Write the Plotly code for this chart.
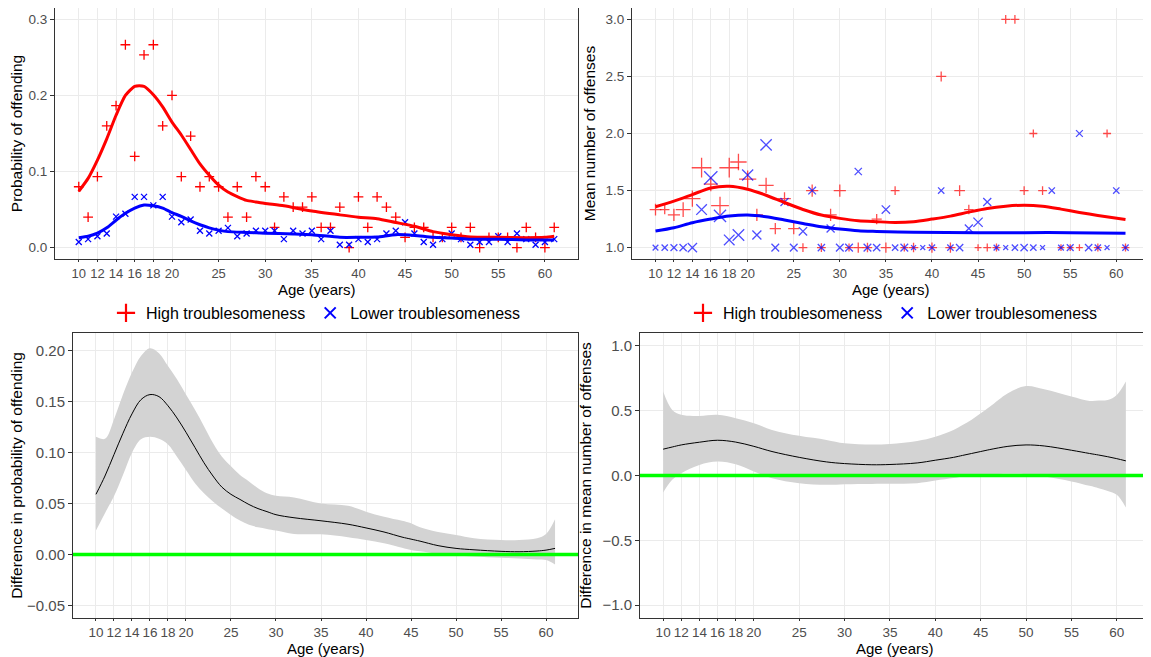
import math
import plotly.graph_objects as go

# ---------------- data ----------------
ages = list(range(10, 62))
N_HIGH = 75
N_LOW = 270

# number of offenders per age
high_offenders = [6, 3, 7, 12, 14, 20, 9, 19, 20, 12, 15, 7, 11, 6, 7, 6, 3, 6, 3, 7,
                  6, 2, 5, 4, 4, 5, 2, 2, 4, 0, 5, 2, 5, 4, 3, 1, 2, 2, 1, 1,
                  2, 1, 2, 0, 1, 1, 1, 0, 2, 1, 0, 2]
low_offenders = [2, 3, 4, 5, 11, 12, 18, 18, 15, 18, 11, 9, 10, 6, 5, 6, 7, 4, 5, 6,
                 6, 6, 3, 6, 5, 6, 3, 6, 1, 1, 3, 2, 3, 5, 6, 9, 5, 2, 1, 3,
                 5, 3, 1, 2, 2, 4, 2, 5, 3, 1, 2, 3]

# mean number of offenses per offender
high_mean = [1.333, 1.333, 1.286, 1.333, 1.429, 1.70, 1.556, 1.368, 1.70, 1.75,
             1.60, 1.286, 1.545, 1.167, 1.429, 1.167, 1.0, 1.5, 1.0, 1.286,
             1.5, 1.0, 1.0, 1.0, 1.25, 1.0, 1.5, 1.0, 1.0, None,
             1.0, 2.5, 1.0, 1.5, 1.333, 1.0, 1.0, 1.0, 3.0, 3.0,
             1.5, 2.0, 1.5, None, 1.0, 1.0, 1.0, None, 1.0, 2.0, None, 1.0]
low_mean = [1.0, 1.0, 1.0, 1.0, 1.0, 1.333, 1.611, 1.278, 1.067, 1.111,
            1.636, 1.111, 1.9, 1.0, 1.4, 1.0, 1.143, 1.5, 1.0, 1.167,
            1.0, 1.0, 1.667, 1.0, 1.0, 1.333, 1.0, 1.0, 1.0, 1.0,
            1.0, 1.5, 1.0, 1.0, 1.167, 1.222, 1.4, 1.0, 1.0, 1.0,
            1.0, 1.0, 1.0, 1.5, 1.0, 1.0, 2.0, 1.0, 1.0, 1.0, 1.5, 1.0]

# smooth fits, probability panel
p_high_fit_age = [10, 11, 12, 13, 14, 15, 16, 17, 18, 19, 20, 21, 22, 23, 24, 25, 26, 27, 28, 29,
                  30, 32, 35, 38, 40, 42, 44, 46, 48, 50, 52, 55, 58, 60, 61]
p_high_fit = [0.074, 0.091, 0.115, 0.143, 0.174, 0.200, 0.212, 0.212, 0.201, 0.185,
              0.165, 0.148, 0.129, 0.110, 0.095, 0.082, 0.073, 0.067, 0.062, 0.060,
              0.058, 0.055, 0.048, 0.043, 0.040, 0.038, 0.033, 0.028, 0.021, 0.017,
              0.014, 0.0135, 0.013, 0.0135, 0.015]
p_low_fit_age = [10, 11, 12, 13, 14, 15, 16, 17, 18, 19, 20, 21, 22, 23, 24, 25, 26, 28, 30, 33,
                 35, 38, 40, 42, 44, 46, 48, 50, 52, 55, 58, 61]
p_low_fit = [0.013, 0.015, 0.019, 0.026, 0.036, 0.045, 0.052, 0.056, 0.055, 0.052,
             0.046, 0.041, 0.035, 0.030, 0.026, 0.023, 0.021, 0.020, 0.019, 0.018,
             0.017, 0.0135, 0.0135, 0.014, 0.017, 0.016, 0.0135, 0.0127, 0.011, 0.011,
             0.010, 0.010]

# smooth fits, mean panel
m_high_fit_age = [10, 12, 14, 16, 18, 20, 22, 24, 26, 28, 30, 32, 34, 36, 38, 40, 42, 44, 46, 48,
                  50, 52, 54, 56, 58, 61]
m_high_fit = [1.358, 1.407, 1.465, 1.523, 1.538, 1.512, 1.459, 1.395, 1.334, 1.285,
              1.256, 1.235, 1.227, 1.221, 1.227, 1.250, 1.276, 1.311, 1.343, 1.363,
              1.372, 1.363, 1.337, 1.308, 1.282, 1.247]
m_low_fit_age = [10, 12, 14, 16, 18, 20, 22, 24, 26, 28, 30, 32, 34, 38, 45, 50, 55, 61]
m_low_fit = [1.145, 1.174, 1.218, 1.250, 1.276, 1.285, 1.270, 1.241, 1.212, 1.183,
             1.163, 1.148, 1.142, 1.134, 1.131, 1.131, 1.131, 1.125]

# difference in probability (estimate and band)
dp_age = [10, 11, 12, 13, 14, 15, 16, 17, 18, 19, 20, 21, 22, 23, 24, 25, 26, 27, 28, 29,
          30, 32, 35, 38, 40, 42, 44, 45, 46, 48, 50, 52, 55, 57, 59, 60, 61]
dp_est = [0.059, 0.077, 0.098, 0.119, 0.138, 0.152, 0.157, 0.155, 0.146, 0.134,
          0.120, 0.105, 0.090, 0.077, 0.066, 0.059, 0.054, 0.049, 0.045, 0.042,
          0.039, 0.036, 0.033, 0.0296, 0.026, 0.022, 0.017, 0.015, 0.013, 0.0086,
          0.0059, 0.0045, 0.003, 0.0026, 0.0033, 0.0042, 0.0059]
dp_upper = [0.1155, 0.1135, 0.1326, 0.157, 0.1786, 0.195, 0.2026, 0.1977, 0.185, 0.172,
            0.157, 0.142, 0.126, 0.1095, 0.096, 0.0865, 0.078, 0.0717, 0.065, 0.060,
            0.0576, 0.056, 0.050, 0.0477, 0.042, 0.037, 0.033, 0.0306, 0.0266, 0.022,
            0.019, 0.0158, 0.0141, 0.0141, 0.0158, 0.020, 0.0345]
dp_lower = [0.0234, 0.0405, 0.057, 0.078, 0.0997, 0.113, 0.1155, 0.1135, 0.108, 0.096,
            0.083, 0.070, 0.060, 0.052, 0.045, 0.0388, 0.0332, 0.029, 0.0266, 0.025,
            0.0234, 0.020, 0.0197, 0.0168, 0.0141, 0.0109, 0.0065, 0.0043, 0.003, 0.0005,
            -0.001, -0.002, -0.0033, -0.004, -0.005, -0.0056, -0.0099]

# difference in mean number of offenses (estimate and band)
dm_age = [10, 11, 12, 14, 16, 18, 20, 22, 25, 28, 30, 33, 35, 38, 40, 42, 43, 44, 45, 46,
          48, 50, 52, 55, 57, 58, 59, 60, 61]
dm_est = [0.203, 0.220, 0.236, 0.257, 0.272, 0.258, 0.225, 0.185, 0.140, 0.105,
          0.092, 0.083, 0.085, 0.097, 0.118, 0.140, 0.155, 0.170, 0.185, 0.200,
          0.225, 0.236, 0.228, 0.195, 0.170, 0.158, 0.145, 0.130, 0.113]
dm_upper = [0.648, 0.506, 0.468, 0.460, 0.468, 0.442, 0.404, 0.352, 0.306, 0.275,
            0.249, 0.239, 0.244, 0.267, 0.300, 0.352, 0.390, 0.430, 0.480, 0.530,
            0.635, 0.690, 0.665, 0.610, 0.576, 0.578, 0.583, 0.622, 0.725]
dm_lower = [-0.131, -0.033, 0.018, 0.082, 0.108, 0.087, 0.031, -0.021, -0.059, -0.072,
            -0.067, -0.065, -0.064, -0.059, -0.039, -0.020, -0.008, 0.000, 0.005, 0.009,
            0.013, 0.010, -0.008, -0.046, -0.080, -0.098, -0.120, -0.149, -0.247]

age_ticks = [10, 12, 14, 16, 18, 20, 25, 30, 35, 40, 45, 50, 55, 60]
labels = ["High troublesomeness", "Lower troublesomeness"]
x_title = "Age (years)"

# ---------------- styling ----------------
RED = "#FF0000"
BLUE = "#0000FF"
PAGE_W, PAGE_H = 1151, 657
OFF = 8  # default page body margin
W, H = PAGE_W - OFF, PAGE_H - OFF
FAMILY = "Liberation Sans, Arial, sans-serif"


def px(xp):
    return (xp - OFF) / W


def py(yp):
    return 1 - (yp - OFF) / H


high_prob = [n / N_HIGH for n in high_offenders]
low_prob = [n / N_LOW for n in low_offenders]


def msize(n, m):
    if m is None:
        return 0
    return 3 + 1.9 * math.sqrt(n * m)


high_size = [msize(n, m) for n, m in zip(high_offenders, high_mean)]
low_size = [msize(n, m) for n, m in zip(low_offenders, low_mean)]

fig = go.Figure()

# ---- top-left: probability of offending ----
fig.add_trace(go.Scatter(x=ages, y=high_prob, mode="markers", xaxis="x", yaxis="y",
                         marker=dict(symbol="cross-thin-open", size=7, color=RED,
                                     line=dict(color=RED, width=1.3)),
                         showlegend=False, hoverinfo="skip"))
fig.add_trace(go.Scatter(x=ages, y=low_prob, mode="markers", xaxis="x", yaxis="y",
                         marker=dict(symbol="x-thin-open", size=6, color=BLUE,
                                     line=dict(color=BLUE, width=1.3)),
                         showlegend=False, hoverinfo="skip"))
fig.add_trace(go.Scatter(x=p_high_fit_age, y=p_high_fit, mode="lines", xaxis="x", yaxis="y",
                         line=dict(color=RED, width=3, shape="spline", smoothing=0.6),
                         showlegend=False, hoverinfo="skip"))
fig.add_trace(go.Scatter(x=p_low_fit_age, y=p_low_fit, mode="lines", xaxis="x", yaxis="y",
                         line=dict(color=BLUE, width=3, shape="spline", smoothing=0.6),
                         showlegend=False, hoverinfo="skip"))

# ---- top-right: mean number of offenses ----
fig.add_trace(go.Scatter(x=ages, y=high_mean, mode="markers", xaxis="x2", yaxis="y2",
                         marker=dict(symbol="cross-thin-open", size=high_size, color=RED,
                                     line=dict(color=RED, width=1.3)),
                         showlegend=False, hoverinfo="skip"))
fig.add_trace(go.Scatter(x=ages, y=low_mean, mode="markers", xaxis="x2", yaxis="y2",
                         marker=dict(symbol="x-thin-open", size=low_size, color=BLUE,
                                     line=dict(color=BLUE, width=1.3)),
                         showlegend=False, hoverinfo="skip"))
fig.add_trace(go.Scatter(x=m_high_fit_age, y=m_high_fit, mode="lines", xaxis="x2", yaxis="y2",
                         line=dict(color=RED, width=3, shape="spline", smoothing=0.8),
                         showlegend=False, hoverinfo="skip"))
fig.add_trace(go.Scatter(x=m_low_fit_age, y=m_low_fit, mode="lines", xaxis="x2", yaxis="y2",
                         line=dict(color=BLUE, width=3, shape="spline", smoothing=0.8),
                         showlegend=False, hoverinfo="skip"))

# ---- legends (one under each top panel) ----
for lg in ["legend", "legend2"]:
    fig.add_trace(go.Scatter(x=[None], y=[None], mode="markers", xaxis="x", yaxis="y",
                             name=labels[0], legend=lg, legendrank=1,
                             marker=dict(symbol="cross-thin-open", size=13, color=RED,
                                         line=dict(color=RED, width=2.2))))
    fig.add_trace(go.Scatter(x=[None], y=[None], mode="markers", xaxis="x", yaxis="y",
                             name=labels[1], legend=lg, legendrank=2,
                             marker=dict(symbol="x-thin-open", size=11, color=BLUE,
                                         line=dict(color=BLUE, width=2))))

# ---- bottom-left: difference in probability ----
BAND = "rgb(211,211,211)"
fig.add_trace(go.Scatter(x=dp_age, y=dp_lower, mode="lines", xaxis="x3", yaxis="y3",
                         line=dict(width=0, shape="spline"), showlegend=False, hoverinfo="skip"))
fig.add_trace(go.Scatter(x=dp_age, y=dp_upper, mode="lines", xaxis="x3", yaxis="y3",
                         line=dict(width=0, shape="spline"), fill="tonexty", fillcolor=BAND,
                         showlegend=False, hoverinfo="skip"))
fig.add_trace(go.Scatter(x=dp_age, y=dp_est, mode="lines", xaxis="x3", yaxis="y3",
                         line=dict(color="black", width=1, shape="spline"),
                         showlegend=False, hoverinfo="skip"))

# ---- bottom-right: difference in mean ----
fig.add_trace(go.Scatter(x=dm_age, y=dm_lower, mode="lines", xaxis="x4", yaxis="y4",
                         line=dict(width=0, shape="spline"), showlegend=False, hoverinfo="skip"))
fig.add_trace(go.Scatter(x=dm_age, y=dm_upper, mode="lines", xaxis="x4", yaxis="y4",
                         line=dict(width=0, shape="spline"), fill="tonexty", fillcolor=BAND,
                         showlegend=False, hoverinfo="skip"))
fig.add_trace(go.Scatter(x=dm_age, y=dm_est, mode="lines", xaxis="x4", yaxis="y4",
                         line=dict(color="black", width=1, shape="spline"),
                         showlegend=False, hoverinfo="skip"))

# zero reference lines
for ax in ["3", "4"]:
    fig.add_shape(type="line", xref=f"x{ax} domain", x0=0, x1=1, yref=f"y{ax}", y0=0, y1=0,
                  line=dict(color="#00FF00", width=3.5), layer="above")

# ---------------- layout ----------------
TITLEFONT = dict(family=FAMILY, size=15, color="black")


def tickfont(size):
    return dict(family=FAMILY, size=size, color="#4D4D4D")


def xax(domain, anchor, tsize):
    return dict(domain=domain, anchor=anchor, range=[7.45, 63.55], automargin=False,
                tickvals=age_ticks, ticktext=[str(a) for a in age_ticks], tickangle=0,
                showgrid=True, gridcolor="#EBEBEB", gridwidth=1, zeroline=False,
                showline=True, linecolor="#333333", linewidth=1, mirror=True,
                ticks="outside", ticklen=2, tickcolor="#333333", tickwidth=1,
                tickfont=tickfont(tsize))


def yax(domain, anchor, rng, tickvals, fmt, title, tsize, standoff=6):
    return dict(domain=domain, anchor=anchor, range=rng, tickvals=tickvals, tickformat=fmt,
                automargin=False,
                showgrid=True, gridcolor="#EBEBEB", gridwidth=1, zeroline=False,
                showline=True, linecolor="#333333", linewidth=1, mirror=True,
                ticks="outside", ticklen=4, tickcolor="#333333", tickwidth=1,
                tickfont=tickfont(tsize),
                title=dict(text=title, font=dict(family=FAMILY, size=15.5, color="black"),
                           standoff=standoff))


top_y = [py(259), py(8)]
bot_y = [py(618), py(333)]
dom = {"x": [px(55), px(578)], "x2": [px(632), px(1149)],
       "x3": [px(73), px(578)], "x4": [px(640), px(1149)]}

LEGFONT = dict(family=FAMILY, size=16, color="black")

fig.update_layout(
    width=W, height=H,
    margin=dict(l=0, r=0, t=0, b=0),
    paper_bgcolor="white", plot_bgcolor="white",
    font=dict(family=FAMILY),
    xaxis=xax(dom["x"], "y", 13),
    yaxis=yax(top_y, "x", [-0.015, 0.315], [0, 0.1, 0.2, 0.3], ".1f",
              "Probability of offending", 13.5),
    xaxis2=xax(dom["x2"], "y2", 13),
    yaxis2=yax(top_y, "x2", [0.9, 3.1], [1.0, 1.5, 2.0, 2.5, 3.0], ".1f",
               "Mean number of offenses", 13.5),
    xaxis3=xax(dom["x3"], "y3", 13.5),
    yaxis3=yax(bot_y, "x3", [-0.0625, 0.2175], [-0.05, 0, 0.05, 0.10, 0.15, 0.20], ".2f",
               "Difference in probability of offending", 15),
    xaxis4=xax(dom["x4"], "y4", 13.5),
    yaxis4=yax(bot_y, "x4", [-1.1, 1.1], [-1.0, -0.5, 0, 0.5, 1.0], ".1f",
               "Difference in mean number of offenses", 15),
    legend=dict(x=px(316), y=py(313), xanchor="center", yanchor="middle",
                orientation="h", font=LEGFONT, traceorder="normal",
                bgcolor="rgba(0,0,0,0)", itemwidth=30, tracegroupgap=0),
    legend2=dict(x=px(893), y=py(313), xanchor="center", yanchor="middle",
                 orientation="h", font=LEGFONT, traceorder="normal",
                 bgcolor="rgba(0,0,0,0)", itemwidth=30, tracegroupgap=0),
)

# x-axis titles placed under each panel
for key, ycen in [("x", 289), ("x2", 289), ("x3", 648), ("x4", 648)]:
    d = dom[key]
    fig.add_annotation(text=x_title, xref="paper", yref="paper",
                       x=(d[0] + d[1]) / 2, y=py(ycen), xanchor="center", yanchor="middle",
                       showarrow=False, font=TITLEFONT)

fig.write_html("out.html")
